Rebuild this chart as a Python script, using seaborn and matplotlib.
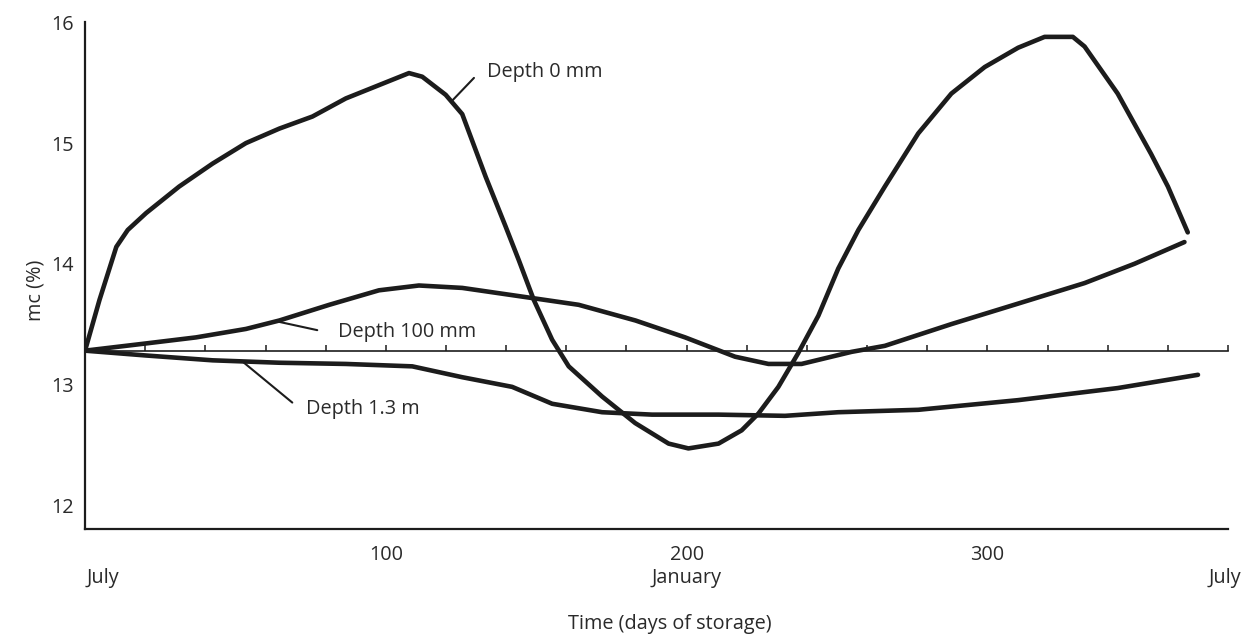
import numpy as np
import pandas as pd
import matplotlib
matplotlib.use("Agg")
import matplotlib.pyplot as plt
import seaborn as sns

# ---------------- data ----------------
initial_mc = 13.28

days_0mm = [0, 4.8, 10.4, 14.2, 20.3, 31.3, 42.4, 53.5, 64.6, 75.6, 86.7, 97.7,
            107.7, 112.1, 119.9, 125.4, 133.2, 139.8, 144.2, 149.2, 155.3, 160.8,
            171.9, 182.9, 194, 200.6, 210.6, 218.3, 223.9, 230.5, 237.1, 243.8,
            250.4, 257.1, 265.9, 277, 288, 299.1, 310.2, 319, 328.4, 332.3,
            343.3, 354.4, 360, 366.6]
mc_0mm = [13.28, 13.70, 14.14, 14.28, 14.42, 14.64, 14.83, 15.00, 15.12, 15.22,
          15.37, 15.48, 15.58, 15.55, 15.40, 15.24, 14.72, 14.31, 14.03, 13.70,
          13.37, 13.15, 12.90, 12.68, 12.51, 12.47, 12.51, 12.62, 12.76, 12.98,
          13.26, 13.57, 13.96, 14.28, 14.64, 15.08, 15.41, 15.63, 15.79, 15.88,
          15.88, 15.80, 15.41, 14.91, 14.64, 14.26]

days_100mm = [0, 20.3, 36.9, 53.5, 64.6, 81.2, 97.7, 111, 125.4, 142, 164.1,
              183, 199.5, 216.1, 227.2, 238.2, 254.8, 265.9, 288, 310.2, 332.3,
              348.9, 365.5]
mc_100mm = [13.28, 13.34, 13.39, 13.46, 13.53, 13.66, 13.78, 13.82, 13.80, 13.74,
            13.66, 13.53, 13.39, 13.23, 13.17, 13.17, 13.27, 13.32, 13.50, 13.67,
            13.84, 14.00, 14.18]

days_13m = [0, 20.3, 42.4, 64.6, 86.7, 108.8, 125.4, 142, 155.3, 171.9, 188.5,
            210.6, 232.7, 250.4, 277, 310.2, 343.3, 370]
mc_13m = [13.28, 13.24, 13.20, 13.18, 13.17, 13.15, 13.06, 12.98, 12.84, 12.77,
          12.75, 12.75, 12.74, 12.77, 12.79, 12.87, 12.97, 13.08]

series_names = ["Depth 0 mm", "Depth 100 mm", "Depth 1.3 m"]

y_ticks = [12, 13, 14, 15, 16]
x_major_ticks = [100, 200, 300]
month_labels = ["July", "January", "July"]
month_days = [6, 200, 379]

# ---------------- build table ----------------
df = pd.concat([
    pd.DataFrame({"day": days_0mm, "mc": mc_0mm, "series": series_names[0]}),
    pd.DataFrame({"day": days_100mm, "mc": mc_100mm, "series": series_names[1]}),
    pd.DataFrame({"day": days_13m, "mc": mc_13m, "series": series_names[2]}),
])

sns.set_style("white")
plt.rcParams["font.family"] = ["Open Sans", "DejaVu Sans"]

ink = "#1c1c1c"
txt = "#2a2a2a"
fs = 14.3

fig = plt.figure(figsize=(12.45, 6.38), dpi=100)
ax = fig.add_axes([0.0683, 0.1704, 0.9181, 0.7945])

sns.lineplot(data=df, x="day", y="mc", units="series", estimator=None,
             color=ink, linewidth=3.3, sort=True, ax=ax, legend=False,
             solid_capstyle="round", solid_joinstyle="round")

ax.set_xlim(0, 380)
ax.set_ylim(11.8, 16.0)

# spines
for s in ["top", "right"]:
    ax.spines[s].set_visible(False)
for s in ["left", "bottom"]:
    ax.spines[s].set_linewidth(1.6)
    ax.spines[s].set_color(ink)

ax.set_yticks(y_ticks)
ax.set_yticklabels([str(t) for t in y_ticks])
ax.tick_params(axis="y", direction="in", length=8, width=1.6, colors=ink,
               labelcolor=txt, labelsize=fs, pad=8)

ax.set_xticks(x_major_ticks)
ax.set_xticklabels([str(t) for t in x_major_ticks])
ax.set_xticks(np.arange(20, 381, 20), minor=True)
ax.tick_params(axis="x", which="major", direction="in", length=7, width=1.6,
               colors=ink, labelcolor=txt, labelsize=fs, pad=11)
ax.tick_params(axis="x", which="minor", direction="in", length=5, width=1.3,
               colors=ink)

# reference line at the initial moisture content, with its own ticks
loc = (initial_mc - 11.8) / (16.0 - 11.8)
sec = ax.secondary_xaxis(loc)
sec.set_xticks(np.arange(20, 381, 20))
sec.tick_params(direction="in", length=4, width=1.1, colors=ink,
                labelbottom=False, labeltop=False)
sec.spines["bottom"].set_linewidth(1.2)
sec.spines["bottom"].set_color(ink)

# month labels
for d, m in zip(month_days, month_labels):
    ax.text(d, -0.096, m, transform=ax.get_xaxis_transform(), ha="center",
            va="center", fontsize=fs, color=txt)

ax.set_xlabel("Time (days of storage)", fontsize=fs, color=txt)
ax.xaxis.set_label_coords(0.512, -0.168)
ax.set_ylabel("mc (%)", fontsize=fs, color=txt)
ax.yaxis.set_label_coords(-0.035, 0.471)

# curve labels with leader lines
lab_specs = [
    (series_names[0], days_0mm, mc_0mm, 121.8, (129.3, 15.54), (133.7, 15.59)),
    (series_names[1], days_100mm, mc_100mm, 63.6, (77.2, 13.45), (84.1, 13.435)),
    (series_names[2], days_13m, mc_13m, 52.3, (68.9, 12.85), (73.5, 12.80)),
]
for name, dd, vv, d0, lead_end, text_pos in lab_specs:
    y0 = np.interp(d0, dd, vv)
    ax.plot([d0, lead_end[0]], [y0, lead_end[1]], color=ink, linewidth=1.5)
    ax.text(text_pos[0], text_pos[1], name, ha="left", va="center",
            fontsize=fs, color=txt)

fig.savefig("out.png", dpi=100, facecolor="white")
